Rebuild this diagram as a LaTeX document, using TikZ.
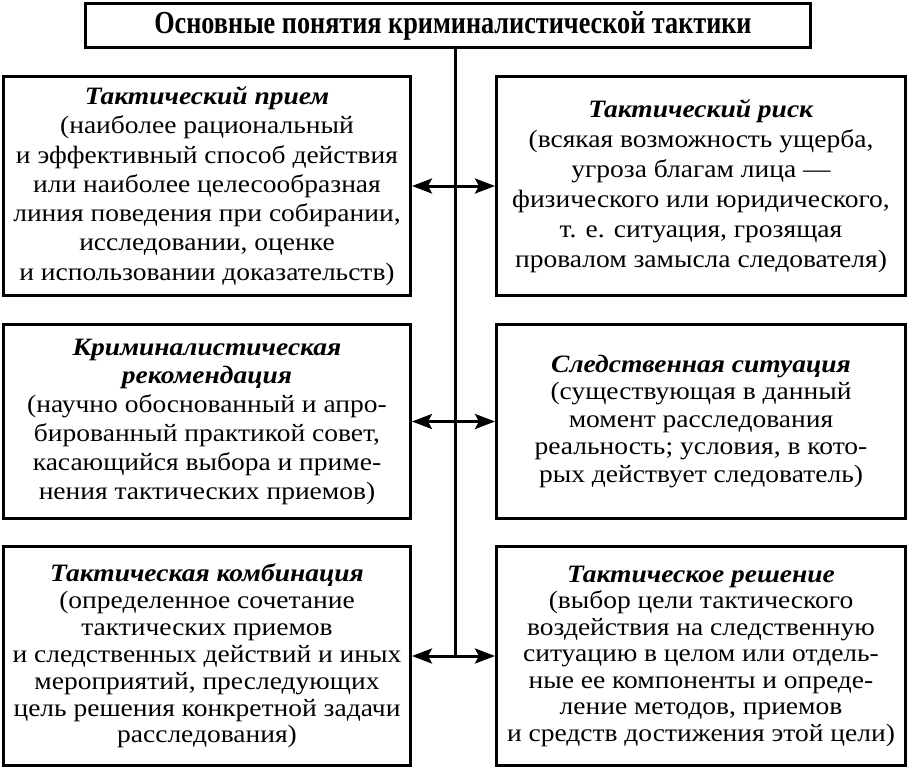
\documentclass[tikz,border=0pt]{standalone}
\usepackage{fontspec}
\setmainfont{Liberation Serif}[FakeStretch=1.1]
\newfontfamily\titlefont{Liberation Serif}[FakeStretch=0.82]
\usetikzlibrary{arrows.meta}
\tikzset{
  cbox/.style={draw, line width=3pt, inner sep=0pt, align=center},
  lbox/.style={cbox, minimum width=407pt},
  rbox/.style={cbox, minimum width=409pt},
  tallbox/.style={minimum height=219pt},
  midbox/.style={minimum height=194pt},
  spineline/.style={line width=3pt},
  biarrow/.style={line width=3pt, {Stealth[length=20pt,width=15pt,inset=4pt]}-{Stealth[length=20pt,width=15pt,inset=4pt]}},
}
\newcommand{\hd}[1]{\textbf{\textit{#1}}}
\begin{document}
\begin{tikzpicture}[x=1pt,y=1pt]
\useasboundingbox (0,0) rectangle (908,-768);
\node[cbox, minimum width=725pt, minimum height=44pt,
      font=\titlefont\bfseries\fontsize{32}{34}\selectfont] (title) at (448,-25.5)
  {\hspace*{10pt}Основные понятия криминалистической тактики};
\node[lbox, tallbox, font=\fontsize{25}{29.3}\selectfont] (l1) at (207,-186)
  {\hd{Тактический прием}\\(наиболее рациональный\\и эффективный способ действия\\или наиболее целесообразная\\линия поведения при собирании,\\исследовании, оценке\\и использовании доказательств)};
\node[rbox, tallbox, font=\fontsize{25}{30}\selectfont] (r1) at (701,-186)
  {\hd{Тактический риск}\\(всякая возможность ущерба,\\угроза благам лица —\\физического или юридического,\\т. е. ситуация, грозящая\\провалом замысла следователя)};
\node[lbox, midbox, font=\fontsize{25}{28.8}\selectfont] (l2) at (207,-421.5)
  {\hd{Криминалистическая}\\\hd{рекомендация}\\(научно обоснованный и апро-\\бированный практикой совет,\\касающийся выбора и приме-\\нения тактических приемов)};
\node[rbox, midbox, font=\fontsize{25}{27.5}\selectfont] (r2) at (701,-421.5)
  {\hd{Следственная ситуация}\\(существующая в данный\\момент расследования\\реальность; условия, в кото-\\рых действует следователь)};
\node[lbox, tallbox, font=\fontsize{25}{26.9}\selectfont] (l3) at (207,-656)
  {\hd{Тактическая комбинация}\\(определенное сочетание\\тактических приемов\\и следственных действий и иных\\мероприятий, преследующих\\цель решения конкретной задачи\\расследования)};
\node[rbox, tallbox, font=\fontsize{25}{26.5}\selectfont] (r3) at (701,-656)
  {\hd{Тактическое решение}\\(выбор цели тактического\\воздействия на следственную\\ситуацию в целом или отдель-\\ные ее компоненты и опреде-\\ление методов, приемов\\и средств достижения этой цели)};
\coordinate (sp) at (455,0);
\draw[spineline] (title.south -| sp) -- (sp |- l3.east);
\draw[biarrow] (l1.east) -- (r1.west);
\draw[biarrow] (l2.east) -- (r2.west);
\draw[biarrow] (l3.east) -- (r3.west);
\end{tikzpicture}
\end{document}
